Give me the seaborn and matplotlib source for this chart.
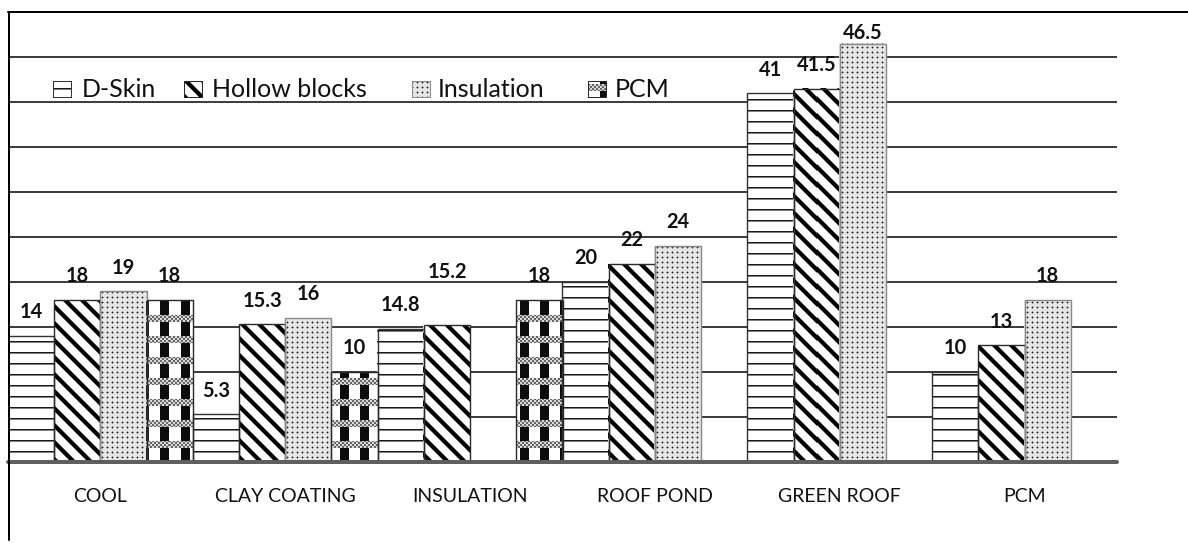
import numpy as np
import pandas as pd
import matplotlib
matplotlib.use("Agg")
import matplotlib.pyplot as plt
import seaborn as sns
from matplotlib.lines import Line2D

# Temperature reduction by roof technique and wall system
techniques = ["COOL", "CLAY COATING", "INSULATION", "ROOF POND", "GREEN ROOF", "PCM"]
systems = ["D-Skin", "Hollow blocks", "Insulation", "PCM"]
d_skin = [14, 5.3, 14.8, 20, 41, 10]
hollow_blocks = [18, 15.3, 15.2, 22, 41.5, 13]
insulation = [19, 16, np.nan, 24, 46.5, 18]
pcm = [18, 10, 18, np.nan, np.nan, np.nan]

series = dict(zip(systems, [d_skin, hollow_blocks, insulation, pcm]))
df = pd.DataFrame(
    [(t, s, v) for s, vals in series.items() for t, v in zip(techniques, vals)],
    columns=["technique", "system", "value"],
).dropna()

W, H, DPI = 1188, 543, 100
PT = 72 / DPI  # points per pixel

sns.set_theme(style="white")
plt.rcParams["font.family"] = ["Lato", "DejaVu Sans"]

fig = plt.figure(figsize=(W / DPI, H / DPI), dpi=DPI)
fig.patch.set_facecolor("white")
ax = fig.add_axes([8 / W, (H - 462) / H, (1117 - 8) / W, (462 - 12) / H])

sns.barplot(
    data=df, x="technique", y="value", hue="system",
    order=techniques, hue_order=systems, palette=["white"] * 4,
    width=1.0, gap=0, dodge=True, errorbar=None, legend=False,
    saturation=1, ax=ax,
)
ax.set_xlim(-0.5, len(techniques) - 0.5)
ax.set_ylim(0, 50)


# ---- fill textures, generated in figure pixel space ----
def tex_dskin(X, Y):
    v = np.ones(X.shape)
    m = Y % 11
    v[m == 0] = 0.1
    v[m == 1] = 0.5
    return v


def tex_hollow(X, Y):
    d = (X - Y) % 17
    v = np.ones(X.shape)
    v[(d >= 1) & (d <= 5)] = 0.0
    v[(d == 0) | (d == 6)] = 0.5
    return v


def tex_insulation(X, Y):
    v = np.full(X.shape, 0.9)
    a, b = X % 5, Y % 5
    v[((a == 1) | (a == 3)) & (b == 2)] = 0.58
    v[((b == 1) | (b == 3)) & (a == 2)] = 0.58
    v[(a == 2) & (b == 2)] = 0.15
    return v


def tex_pcm(X, Y):
    v = np.ones(X.shape)
    band = (Y % 21) < 7
    v[~band & ((X % 20) < 9)] = 0.05
    chk = ((X // 2 + Y // 2) % 2) == 0
    v[band] = np.where(chk[band], 0.4, 0.85)
    return v


textures = dict(zip(systems, [tex_dskin, tex_hollow, tex_insulation, tex_pcm]))
edges = dict(zip(systems, ["#333333", "#2a2a2a", "#8a8a8a", "#2a2a2a"]))
edge_gray = dict(zip(systems, [0.2, 0.16, 0.54, 0.16]))

inv = ax.transData.inverted()
bars = []
for bar in ax.patches:
    x0, w, h = bar.get_x(), bar.get_width(), bar.get_height()
    if not np.isfinite(h) or h == 0:
        continue
    xc = x0 + w / 2
    ci = int(round(xc))
    si = int(round((xc - ci + 0.375) / 0.25))
    name = systems[si]
    (dx0, dy0) = ax.transData.transform((x0, 0))
    (dx1, dy1) = ax.transData.transform((x0 + w, h))
    c0, c1 = int(np.floor(dx0)), int(np.ceil(dx1))
    rt, rb = int(np.floor(H - dy1)), int(np.ceil(H - dy0))
    X, Y = np.meshgrid(np.arange(c0, c1), np.arange(rt, rb))
    T = textures[name](X, Y)
    ex0, ey0 = inv.transform((c0, H - rb))
    ex1, ey1 = inv.transform((c1, H - rt))
    ax.imshow(T, extent=[ex0, ex1, ey0, ey1], origin="upper", cmap="gray",
              vmin=0, vmax=1, interpolation="nearest", aspect="auto",
              zorder=2, clip_path=bar)
    bar.set_facecolor("none")
    bar.set_edgecolor(edges[name])
    bar.set_linewidth(1.4 * PT)
    bar.set_zorder(3)
    bars.append((bar, techniques[ci], name))

ax.set_xlim(-0.5, len(techniques) - 0.5)
ax.set_ylim(0, 50)

# ---- value labels ----
label_rise = {("INSULATION", "Hollow blocks"): 47, ("GREEN ROOF", "Insulation"): 4.5}
for bar, tech, name in bars:
    rise = label_rise.get((tech, name), 17.5)
    ax.annotate(f"{bar.get_height():g}",
                xy=(bar.get_x() + bar.get_width() / 2, bar.get_height()),
                xytext=(0, rise * PT), textcoords="offset points",
                ha="center", va="baseline", fontsize=20 * PT,
                fontweight="bold", color="#111111", zorder=4)

# ---- axes styling ----
ax.set_yticks(np.arange(0, 51, 5))
ax.yaxis.grid(True, color="black", linewidth=1.5 * PT)
ax.xaxis.grid(False)
ax.set_axisbelow(True)
ax.tick_params(axis="y", left=False, labelleft=False)
ax.tick_params(axis="x", length=0, pad=26 * PT, labelsize=19.5 * PT,
               labelcolor="#111111")
ax.set_xlabel("")
ax.set_ylabel("")
for sp in ax.spines.values():
    sp.set_visible(False)
ax.axhline(0, color="#5f5f5f", linewidth=4 * PT, zorder=5, clip_on=False)

# chart area border (left and top)
fig.add_artist(Line2D([8.5 / W, 8.5 / W], [(H - 540) / H, (H - 12) / H],
                      color="black", linewidth=2 * PT))
fig.add_artist(Line2D([8 / W, 1.0], [(H - 12) / H, (H - 12) / H],
                      color="black", linewidth=2 * PT))

# ---- legend: pattern keys and labels along one row ----
key_left = [53, 184, 412, 588]
text_left = [82, 212, 438, 615]
key_top, key_w, key_h = 81, 19, 17
for name, kx, tx in zip(systems, key_left, text_left):
    X, Y = np.meshgrid(np.arange(kx, kx + key_w), np.arange(key_top, key_top + key_h))
    key = textures[name](X, Y)
    key[0, :] = key[-1, :] = edge_gray[name]
    key[:, 0] = key[:, -1] = edge_gray[name]
    fig.figimage(key, xo=kx, yo=H - key_top - key_h, origin="upper",
                 cmap="gray", vmin=0, vmax=1)
    fig.text(tx / W, 1 - 97 / H, name, fontsize=25 * PT, color="#111111",
             ha="left", va="baseline")

fig.savefig("out.png", dpi=DPI, facecolor="white")
